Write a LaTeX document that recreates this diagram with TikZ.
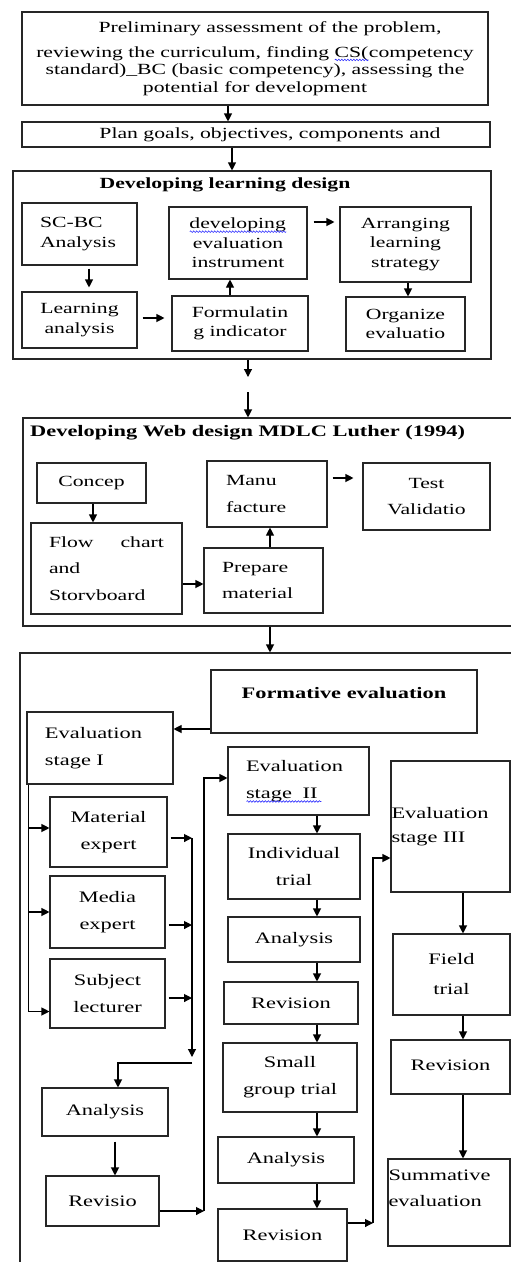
\documentclass[tikz,border=0pt]{standalone}
\usepackage{fontspec}
\setmainfont{Liberation Serif}[FakeStretch=1.4]
\usetikzlibrary{arrows.meta, positioning, calc, decorations.pathmorphing}

\newlength\spellw
\newcommand\spellwave[1]{\settowidth\spellw{#1}\rlap{#1}\raisebox{-4pt}{\tikz[x=1pt,y=1pt]
    \draw[spell mark] (0,0) -- (\spellw,0);}}

\tikzset{
    stage box/.style={
        rectangle,
        draw=black!85,
        line width=1.1pt,
        inner sep=0pt,
        align=center,
        font=\fontsize{15.5}{19.5}\selectfont
    },
    web box/.style={
        stage box,
        font=\fontsize{15.5}{26.5}\selectfont
    },
    eval box/.style={
        stage box,
        font=\fontsize{16}{27}\selectfont
    },
    frame box/.style={
        rectangle,
        draw=black!85,
        line width=1.1pt,
        inner sep=0pt
    },
    frame title/.style={
        inner sep=0pt,
        font=\fontsize{15.5}{19}\selectfont\bfseries
    },
    flow arrow/.style={
        -{Triangle[length=8pt,width=8pt]},
        line width=1.1pt,
        draw=black
    },
    spell mark/.style={
        draw=blue!80,
        line width=0.6pt,
        decorate,
        decoration={snake, amplitude=0.8pt, segment length=3pt}
    }
}

\begin{document}
\begin{tikzpicture}[x=1pt, y=-1pt]

\useasboundingbox (0,0) rectangle (511,1262);
\clip (0,0) rectangle (511,1262);

% Preliminary steps
\node[stage box, minimum width=466, minimum height=93, font=\fontsize{15.5}{17.5}\selectfont]
     (assess) at (255,58.5) {
    \hspace*{30pt}Preliminary assessment of the problem,\\[7pt]
    reviewing the curriculum, finding \spellwave{CS(}competency\\
    standard)\_BC (basic competency), assessing the\\
    potential for development
};
\node[stage box, minimum width=468, minimum height=25]
     (plan) at (256,134.5) {\hspace*{28pt}Plan goals, objectives, components and};
\draw[flow arrow] ([xshift=-27pt]assess.south) -- ([xshift=-27pt]assess.south |- plan.north);

% === LEARNING DESIGN ===
\node[frame box, minimum width=478, minimum height=188] (ldesign) at (252,265) {};
\node[frame title] (ltitle) at (225,185) {Developing learning design};
\draw[flow arrow] ([xshift=-24pt]plan.south) -- ([xshift=-24pt]plan.south |- ldesign.north);

\node[stage box, minimum width=115, minimum height=62, align=left,
      inner xsep=18pt, text width=79] (scbc) at (79.5,234) {SC-BC\\Analysis};
\node[stage box, minimum width=115, minimum height=56] (learn) at (79.5,320) {Learning\\analysis};
\node[stage box, minimum width=138, minimum height=72] (instr) at (238,243)
    {\spellwave{developing}\\evaluation\\instrument};
\node[stage box, minimum width=136, minimum height=55] (indic) at (240,323.5)
    {Formulatin\\g indicator};
\node[stage box, minimum width=131, minimum height=75] (strat) at (405.5,244.5)
    {Arranging\\learning\\strategy};
\node[stage box, minimum width=119, minimum height=54] (organ) at (405.5,324)
    {Organize\\evaluatio};

\draw[flow arrow, shorten <=3pt, shorten >=4pt] ([xshift=9.5pt]scbc.south) -- ([xshift=9.5pt]scbc.south |- learn.north);
\draw[flow arrow, shorten <=5pt, shorten >=7pt] ([yshift=2pt]learn.east) -- ([yshift=2pt]learn.east -| indic.west);
\draw[flow arrow] ([xshift=-10pt]indic.north) -- ([xshift=-10pt]indic.north |- instr.south);
\draw[flow arrow, shorten <=6pt, shorten >=5pt] ([yshift=21pt]instr.east) -- ([yshift=21pt]instr.east -| strat.west);
\draw[flow arrow] ([xshift=2.5pt]strat.south) -- ([xshift=2.5pt]strat.south |- organ.north);

% === WEB DESIGN ===
\node[frame box, minimum width=517, minimum height=208] (wdesign) at (281.5,522) {};
\node[frame title, anchor=west, font=\fontsize{16}{19}\selectfont\bfseries]
     (wtitle) at (30,433) {Developing Web design MDLC Luther (1994)};

\coordinate (lgap) at (248,385);
\draw[flow arrow] (ldesign.south -| lgap) -- ($(lgap)+(0,-8)$);
\draw[flow arrow] ($(lgap)+(0,7)$) -- (lgap |- wdesign.north);

\node[web box, minimum width=109, minimum height=40] (concep) at (91.5,483) {Concep};
\node[web box, minimum width=151, minimum height=91, align=left,
      inner xsep=18pt, text width=115] (story) at (106.5,568.5)
    {Flow\hfill chart\\and\\Storvboard};
\node[web box, minimum width=119, minimum height=65, align=left,
      inner xsep=18pt, text width=83] (prepare) at (263.5,580.5) {Prepare\\material};
\node[web box, minimum width=120, minimum height=66, align=left,
      inner xsep=19pt, text width=82] (manu) at (267,494) {Manu\\facture};
\node[web box, minimum width=127, minimum height=67] (test) at (426.5,496.5) {Test\\Validatio};

\draw[flow arrow] ([xshift=1.5pt]concep.south) -- ([xshift=1.5pt]concep.south |- story.north);
\draw[flow arrow] ([yshift=-15.5pt]story.east) -- ([yshift=-15.5pt]story.east -| prepare.west);
\draw[flow arrow] ([xshift=6.5pt]prepare.north) -- ([xshift=6.5pt]prepare.north |- manu.south);
\draw[flow arrow, shorten <=5pt, shorten >=9pt] ([yshift=16pt]manu.east) -- ([yshift=16pt]manu.east -| test.west);

% === FORMATIVE EVALUATION ===
\node[frame box, minimum width=520, minimum height=647] (fframe) at (280,976.5) {};
\draw[flow arrow] ([xshift=-11.5pt]wdesign.south) -- ([xshift=-11.5pt]wdesign.south |- fframe.north);

\node[eval box, minimum width=266, minimum height=63] (formative) at (344,701.5)
    {\raisebox{18pt}{\bfseries Formative evaluation}};

% stage I
\node[eval box, minimum width=146, minimum height=72, align=left,
      inner xsep=18pt, text width=110] (stageI) at (100,748) {Evaluation\\stage I};
\node[eval box, minimum width=117, minimum height=70] (matexp) at (108.5,832) {Material\\expert};
\node[eval box, minimum width=115, minimum height=72] (medexp) at (107.5,912) {Media\\expert};
\node[eval box, minimum width=115, minimum height=69] (lecturer) at (107.5,993.5) {Subject\\lecturer};
\node[eval box, minimum width=126, minimum height=48] (anaI) at (105,1112) {Analysis};
\node[eval box, minimum width=113, minimum height=50] (revI) at (102.5,1201) {Revisio};

% stage II
\node[eval box, minimum width=141, minimum height=68, align=left,
      inner xsep=18pt, text width=105] (stageII) at (298.5,781) {Evaluation\\stage\ \ II};
\draw[spell mark] ($(stageII.north west)+(19,55)$) -- ++(75,0);
\node[eval box, minimum width=132, minimum height=65] (indiv) at (294,866.5) {Individual\\trial};
\node[eval box, minimum width=132, minimum height=45] (anaII) at (294,939.5) {Analysis};
\node[eval box, minimum width=134, minimum height=42] (revII) at (291,1003) {Revision};
\node[eval box, minimum width=134, minimum height=69] (small) at (290,1077.5) {Small\\group trial};
\node[eval box, minimum width=136, minimum height=46] (anaIIb) at (286,1160) {Analysis};
\node[eval box, minimum width=129, minimum height=52] (revIIb) at (282.5,1235) {Revision};

% stage III
\node[eval box, minimum width=119, minimum height=131, align=left,
      inner xsep=0.5pt, text width=118, font=\fontsize{16}{24}\selectfont]
     (stageIII) at (450.5,826.5) {Evaluation\\stage III};
\node[eval box, minimum width=117, minimum height=81] (field) at (451.5,974.5) {\raisebox{5pt}{\begin{tabular}{@{}c@{}}Field\\[3pt]trial\end{tabular}}};
\node[eval box, minimum width=119, minimum height=54] (revIII) at (450.5,1067) {\raisebox{4pt}{Revision}};
\node[eval box, minimum width=122, minimum height=87, align=left,
      inner xsep=0.5pt, text width=121, font=\fontsize{16}{26}\selectfont]
     (summ) at (449,1202.5) {Summative\\evaluation\\[-6pt]\strut};

% connectors of stage I
\draw[flow arrow] ([yshift=-27.5pt]formative.west) -- ([yshift=-27.5pt]formative.west -| stageI.east);
\coordinate (lbus) at ($(stageI.south west)+(2,0)$);
\draw[flow arrow] (lbus) |- ([yshift=4pt]matexp.west);
\draw[flow arrow] (lbus) |- (medexp.west);
\draw[flow arrow] (lbus) |- ([yshift=-18pt]lecturer.west);

\coordinate (rbus) at (192,838);
\coordinate (rbend) at (192,1063);
\draw[flow arrow, shorten <=3pt] ([yshift=-6pt]matexp.east) -- (rbus);
\draw[flow arrow, shorten <=3pt] ([yshift=-13pt]medexp.east) -- ([yshift=-13pt]medexp.east -| rbus);
\draw[flow arrow, shorten <=3pt] ([yshift=-4.5pt]lecturer.east) -- ([yshift=-4.5pt]lecturer.east -| rbus);
\draw[flow arrow] (rbus) -- ($(rbend)+(0,-6)$);
\draw[flow arrow] (rbend) -| ([xshift=13pt]anaI.north);
\draw[flow arrow, shorten <=5pt] ([xshift=10pt]anaI.south) -- ([xshift=10pt]anaI.south |- revI.north);

\coordinate (mbus) at (204,1211);
\draw[flow arrow] ([yshift=-10pt]revI.east) -- (mbus);
\draw[flow arrow] (mbus) |- ([yshift=3pt]stageII.west);

% connectors of stage II
\coordinate (ccol) at (317,0);
\foreach \a/\b in {stageII/indiv, indiv/anaII, anaII/revII, revII/small, small/anaIIb, anaIIb/revIIb}
    \draw[flow arrow] (\a.south -| ccol) -- (\b.north -| ccol);

\coordinate (nbus) at (373,1223);
\draw[flow arrow] ([yshift=12pt]revIIb.east) -- (nbus);
\draw[flow arrow] (nbus) |- ([yshift=-31.5pt]stageIII.west);

% connectors of stage III
\coordinate (ecol) at (463,0);
\foreach \a/\b in {stageIII/field, field/revIII, revIII/summ}
    \draw[flow arrow] (\a.south -| ecol) -- (\b.north -| ecol);

\end{tikzpicture}
\end{document}
